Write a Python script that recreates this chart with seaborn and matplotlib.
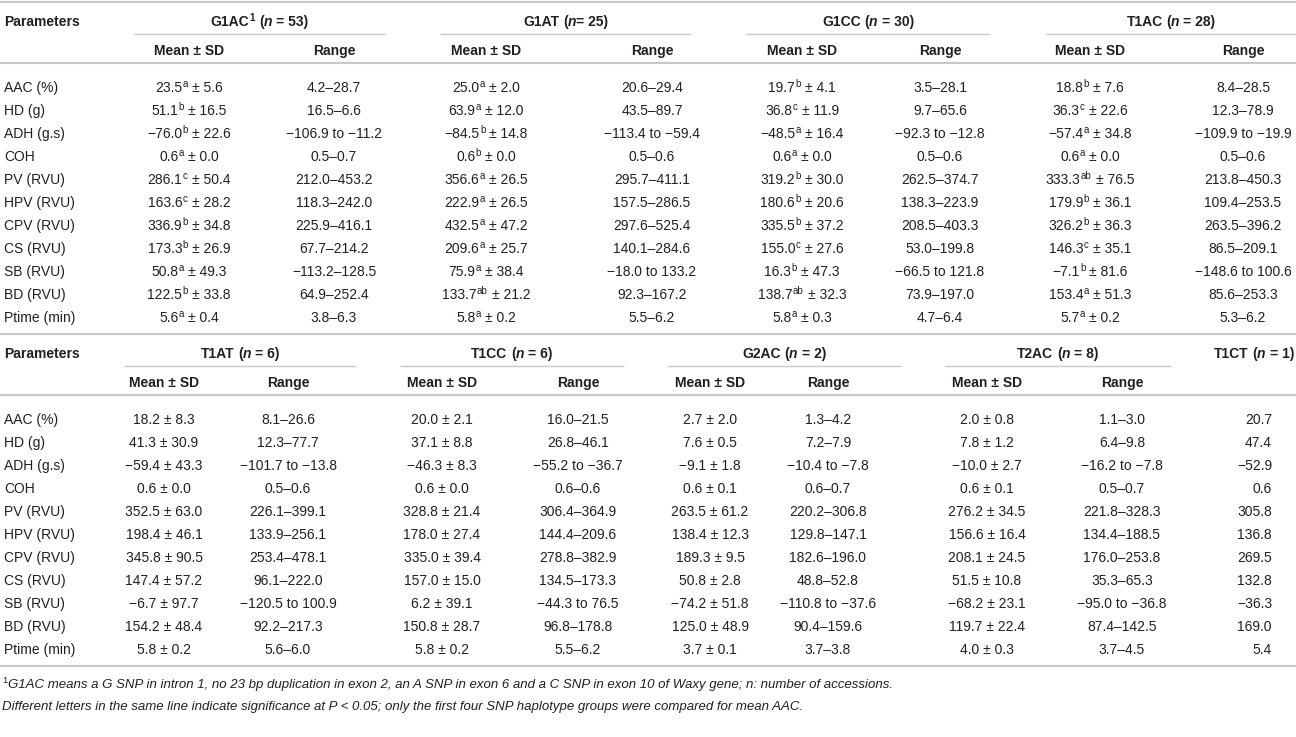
import matplotlib
matplotlib.use("Agg")
import matplotlib.pyplot as plt
import seaborn as sns

sns.set_theme(style="white")
plt.rcParams["font.family"] = ["Liberation Sans", "DejaVu Sans"]

TEXT = "#231f20"
RULE = "#c8c8c8"

params = ["AAC (%)", "HD (g)", "ADH (g.s)", "COH", "PV (RVU)", "HPV (RVU)",
          "CPV (RVU)", "CS (RVU)", "SB (RVU)", "BD (RVU)", "Ptime (min)"]

# ---- first block: four SNP haplotype groups (with significance letters)
t1_groups = ["G1AC", "G1AT", "G1CC", "T1AC"]
t1_n = [53, 25, 30, 28]
t1_tight_eq = [False, True, False, False]

g1ac_mean = [23.5, 51.1, -76.0, 0.6, 286.1, 163.6, 336.9, 173.3, 50.8, 122.5, 5.6]
g1ac_sd = [5.6, 16.5, 22.6, 0.0, 50.4, 28.2, 34.8, 26.9, 49.3, 33.8, 0.4]
g1ac_sig = ["a", "b", "b", "a", "c", "c", "b", "b", "a", "b", "a"]
g1ac_range = ["4.2–28.7", "16.5–6.6", "−106.9 to −11.2", "0.5–0.7", "212.0–453.2",
              "118.3–242.0", "225.9–416.1", "67.7–214.2", "−113.2–128.5",
              "64.9–252.4", "3.8–6.3"]

g1at_mean = [25.0, 63.9, -84.5, 0.6, 356.6, 222.9, 432.5, 209.6, 75.9, 133.7, 5.8]
g1at_sd = [2.0, 12.0, 14.8, 0.0, 26.5, 26.5, 47.2, 25.7, 38.4, 21.2, 0.2]
g1at_sig = ["a", "a", "b", "b", "a", "a", "a", "a", "a", "ab", "a"]
g1at_range = ["20.6–29.4", "43.5–89.7", "−113.4 to −59.4", "0.5–0.6", "295.7–411.1",
              "157.5–286.5", "297.6–525.4", "140.1–284.6", "−18.0 to 133.2",
              "92.3–167.2", "5.5–6.2"]

g1cc_mean = [19.7, 36.8, -48.5, 0.6, 319.2, 180.6, 335.5, 155.0, 16.3, 138.7, 5.8]
g1cc_sd = [4.1, 11.9, 16.4, 0.0, 30.0, 20.6, 37.2, 27.6, 47.3, 32.3, 0.3]
g1cc_sig = ["b", "c", "a", "a", "b", "b", "b", "c", "b", "ab", "a"]
g1cc_range = ["3.5–28.1", "9.7–65.6", "−92.3 to −12.8", "0.5–0.6", "262.5–374.7",
              "138.3–223.9", "208.5–403.3", "53.0–199.8", "−66.5 to 121.8",
              "73.9–197.0", "4.7–6.4"]

t1ac_mean = [18.8, 36.3, -57.4, 0.6, 333.3, 179.9, 326.2, 146.3, -7.1, 153.4, 5.7]
t1ac_sd = [7.6, 22.6, 34.8, 0.0, 76.5, 36.1, 36.3, 35.1, 81.6, 51.3, 0.2]
t1ac_sig = ["b", "c", "a", "a", "ab", "b", "b", "c", "b", "a", "a"]
t1ac_range = ["8.4–28.5", "12.3–78.9", "−109.9 to −19.9", "0.5–0.6", "213.8–450.3",
              "109.4–253.5", "263.5–396.2", "86.5–209.1", "−148.6 to 100.6",
              "85.6–253.3", "5.3–6.2"]

# ---- second block: remaining groups (no letters)
t2_groups = ["T1AT", "T1CC", "G2AC", "T2AC"]
t2_n = [6, 6, 2, 8]

t1at_mean = [18.2, 41.3, -59.4, 0.6, 352.5, 198.4, 345.8, 147.4, -6.7, 154.2, 5.8]
t1at_sd = [8.3, 30.9, 43.3, 0.0, 63.0, 46.1, 90.5, 57.2, 97.7, 48.4, 0.2]
t1at_range = ["8.1–26.6", "12.3–77.7", "−101.7 to −13.8", "0.5–0.6", "226.1–399.1",
              "133.9–256.1", "253.4–478.1", "96.1–222.0", "−120.5 to 100.9",
              "92.2–217.3", "5.6–6.0"]

t1cc_mean = [20.0, 37.1, -46.3, 0.6, 328.8, 178.0, 335.0, 157.0, 6.2, 150.8, 5.8]
t1cc_sd = [2.1, 8.8, 8.3, 0.0, 21.4, 27.4, 39.4, 15.0, 39.1, 28.7, 0.2]
t1cc_range = ["16.0–21.5", "26.8–46.1", "−55.2 to −36.7", "0.6–0.6", "306.4–364.9",
              "144.4–209.6", "278.8–382.9", "134.5–173.3", "−44.3 to 76.5",
              "96.8–178.8", "5.5–6.2"]

g2ac_mean = [2.7, 7.6, -9.1, 0.6, 263.5, 138.4, 189.3, 50.8, -74.2, 125.0, 3.7]
g2ac_sd = [2.0, 0.5, 1.8, 0.1, 61.2, 12.3, 9.5, 2.8, 51.8, 48.9, 0.1]
g2ac_range = ["1.3–4.2", "7.2–7.9", "−10.4 to −7.8", "0.6–0.7", "220.2–306.8",
              "129.8–147.1", "182.6–196.0", "48.8–52.8", "−110.8 to −37.6",
              "90.4–159.6", "3.7–3.8"]

t2ac_mean = [2.0, 7.8, -10.0, 0.6, 276.2, 156.6, 208.1, 51.5, -68.2, 119.7, 4.0]
t2ac_sd = [0.8, 1.2, 2.7, 0.1, 34.5, 16.4, 24.5, 10.8, 23.1, 22.4, 0.3]
t2ac_range = ["1.1–3.0", "6.4–9.8", "−16.2 to −7.8", "0.5–0.7", "221.8–328.3",
              "134.4–188.5", "176.0–253.8", "35.3–65.3", "−95.0 to −36.8",
              "87.4–142.5", "3.7–4.5"]

t1ct_value = [20.7, 47.4, -52.9, 0.6, 305.8, 136.8, 269.5, 132.8, -36.3, 169.0, 5.4]
t1ct_n = 1

footnote_1 = ("G1AC means a G SNP in intron 1, no 23 bp duplication in exon 2, an A SNP in "
              "exon 6 and a C SNP in exon 10 of Waxy gene; n: number of accessions.")
footnote_2 = ("Different letters in the same line indicate significance at P < 0.05; only "
              "the first four SNP haplotype groups were compared for mean AAC.")

t1_data = [(g1ac_mean, g1ac_sd, g1ac_sig, g1ac_range),
           (g1at_mean, g1at_sd, g1at_sig, g1at_range),
           (g1cc_mean, g1cc_sd, g1cc_sig, g1cc_range),
           (t1ac_mean, t1ac_sd, t1ac_sig, t1ac_range)]
t2_data = [(t1at_mean, t1at_sd, None, t1at_range),
           (t1cc_mean, t1cc_sd, None, t1cc_range),
           (g2ac_mean, g2ac_sd, None, g2ac_range),
           (t2ac_mean, t2ac_sd, None, t2ac_range)]

FS = 10
SP = 3.9      # width of a space at FS, in px
ROW = 23      # row pitch, px


def num(v):
    return f"{v:.1f}".replace("-", "−")


fig = plt.figure(figsize=(12.96, 7.37), dpi=100)
ax = fig.add_axes([0, 0, 1, 1])
ax.set_xlim(0, 1296)
ax.set_ylim(737, 0)
ax.axis("off")
renderer = fig.canvas.get_renderer()


def put_runs(x, y, runs, ha="center", size=FS):
    # runs: (text, weight, style, superscript, gap before)
    arts = []
    total = 0
    for txt, weight, style, sup, gap in runs:
        fs = size * 0.7 if sup else size
        t = ax.text(0, y - (5 if sup else 0), txt, fontsize=fs, fontweight=weight,
                    fontstyle=style, color=TEXT, ha="left", va="baseline")
        w = t.get_window_extent(renderer).width
        arts.append((t, gap, w))
        total += gap + w
    if ha == "center":
        x0 = x - total / 2
    elif ha == "right":
        x0 = x - total
    else:
        x0 = x
    for t, gap, w in arts:
        x0 += gap
        t.set_x(x0)
        x0 += w


def rule(y, x0=0, x1=1296, lw=1.6):
    ax.plot([x0, x1], [y, y], color=RULE, lw=lw, solid_capstyle="butt")


def block(y0, groups, ns, data, mean_x, range_x, lines, tight=None, first=False, extra=None):
    base = 5
    rule(y0)
    h1, ul, h2, r2, row0 = y0 + 19, y0 + 32, y0 + 48, y0 + 61, y0 + 85
    put_runs(4, h1 + base, [("Parameters", "bold", "normal", False, 0)], ha="left")
    for k, g in enumerate(groups):
        runs = [(g, "bold", "normal", False, 0)]
        if first and k == 0:
            runs.append(("1", "bold", "normal", True, 0.5))
        eq_gap = 0 if (tight and tight[k]) else SP
        runs += [("(", "bold", "normal", False, SP), ("n", "bold", "italic", False, 0),
                 (f"= {ns[k]})", "bold", "normal", False, eq_gap)]
        cx = (lines[k][0] + lines[k][1]) / 2
        put_runs(cx, h1 + base, runs)
        rule(ul, lines[k][0], lines[k][1], lw=1.0)
        put_runs(mean_x[k], h2 + base, [("Mean ± SD", "bold", "normal", False, 0)])
        put_runs(range_x[k], h2 + base, [("Range", "bold", "normal", False, 0)])
    if extra is not None:
        put_runs(1294, h1 + base, [(extra[0], "bold", "normal", False, 0),
                                   ("(", "bold", "normal", False, SP),
                                   ("n", "bold", "italic", False, 0),
                                   (f"= {extra[1]})", "bold", "normal", False, SP)],
                 ha="right")
    rule(r2)
    for i, p in enumerate(params):
        y = row0 + ROW * i + base
        put_runs(4, y, [(p, "normal", "normal", False, 0)], ha="left")
        for k, (m, s, sig, rg) in enumerate(data):
            if sig is None:
                runs = [(f"{num(m[i])} ± {num(s[i])}", "normal", "normal", False, 0)]
            else:
                runs = [(num(m[i]), "normal", "normal", False, 0),
                        (sig[i], "normal", "normal", True, 0.5),
                        (f"± {num(s[i])}", "normal", "normal", False, SP)]
            put_runs(mean_x[k], y, runs)
            put_runs(range_x[k], y, [(rg[i], "normal", "normal", False, 0)])
        if extra is not None:
            put_runs(1272, y, [(num(extra[2][i]), "normal", "normal", False, 0)], ha="right")
    return row0 + ROW * (len(params) - 1) + 17


end1 = block(2, t1_groups, t1_n, t1_data,
             mean_x=[189, 486, 802, 1090], range_x=[334, 652, 940, 1243],
             lines=[(134, 385), (440, 691), (746, 990), (1046, 1296)],
             tight=t1_tight_eq, first=True)

end2 = block(end1, t2_groups, t2_n, t2_data,
             mean_x=[164, 442, 710, 987], range_x=[288, 578, 828, 1122],
             lines=[(124, 356), (400, 624), (667, 901), (945, 1171)],
             extra=("T1CT", t1ct_n, t1ct_value))

rule(end2)
put_runs(2, end2 + 22, [("1", "normal", "normal", True, 0),
                        (footnote_1, "normal", "italic", False, 0.5)], ha="left", size=9.5)
put_runs(2, end2 + 44, [(footnote_2, "normal", "italic", False, 0)], ha="left", size=9.5)

fig.savefig("out.png", dpi=100, facecolor="white")
